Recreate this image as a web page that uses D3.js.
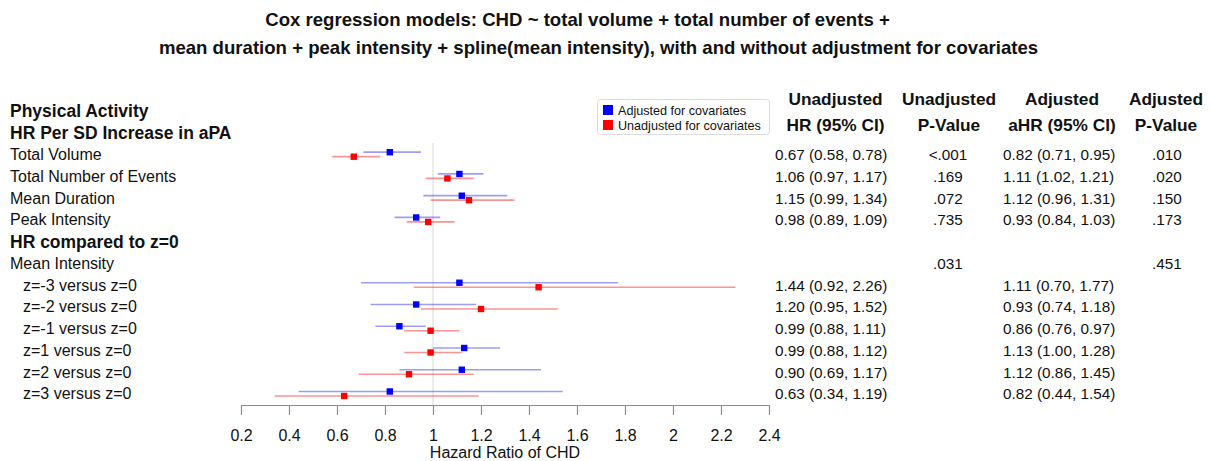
<!DOCTYPE html>
<html>
<head>
<meta charset="utf-8">
<script src="https://cdn.jsdelivr.net/npm/d3@7"></script>
<style>
  html, body { margin: 0; padding: 0; background: #fff; }
  svg { display: block; font-family: "Liberation Sans", Arial, Helvetica, sans-serif; }
</style>
</head>
<body>
<svg id="chart" width="1215" height="461"></svg>
<script>
// ---- data ----
const titleLines = [
  "Cox regression models: CHD ~ total volume + total number of events +",
  "mean duration + peak intensity + spline(mean intensity), with and without adjustment for covariates"
];
const rowLabels = [
  "Physical Activity", "HR Per SD Increase in aPA",
  "Total Volume", "Total Number of Events", "Mean Duration", "Peak Intensity",
  "HR compared to z=0", "Mean Intensity",
  "z=-3 versus z=0", "z=-2 versus z=0", "z=-1 versus z=0",
  "z=1 versus z=0", "z=2 versus z=0", "z=3 versus z=0"
];
const rowBold   = [1,1,0,0,0,0,1,0,0,0,0,0,0,0];
const rowIndent = [0,0,0,0,0,0,0,0,1,1,1,1,1,1];

// Unadjusted (red)
const unadjHR = [null,null,0.67,1.06,1.15,0.98,null,null,1.44,1.20,0.99,0.99,0.90,0.63];
const unadjLo = [null,null,0.58,0.97,0.99,0.89,null,null,0.92,0.95,0.88,0.88,0.69,0.34];
const unadjHi = [null,null,0.78,1.17,1.34,1.09,null,null,2.26,1.52,1.11,1.12,1.17,1.19];
const unadjP  = [null,null,"<.001",".169",".072",".735",null,".031",null,null,null,null,null,null];

// Adjusted (blue)
const adjHR = [null,null,0.82,1.11,1.12,0.93,null,null,1.11,0.93,0.86,1.13,1.12,0.82];
const adjLo = [null,null,0.71,1.02,0.96,0.84,null,null,0.70,0.74,0.76,1.00,0.86,0.44];
const adjHi = [null,null,0.95,1.21,1.31,1.03,null,null,1.77,1.18,0.97,1.28,1.45,1.54];
const adjP  = [null,null,".010",".020",".150",".173",null,".451",null,null,null,null,null,null];

const xTicks = [0.2,0.4,0.6,0.8,1.0,1.2,1.4,1.6,1.8,2.0,2.2,2.4];
const colHeaders = [["Unadjusted","HR (95% CI)"],["Unadjusted","P-Value"],["Adjusted","aHR (95% CI)"],["Adjusted","P-Value"]];
const legendItems = [["Adjusted for covariates","#0000ff"],["Unadjusted for covariates","#ff0000"]];
const xTitle = "Hazard Ratio of CHD";

// ---- layout ----
const svg = d3.select("#chart");
const x = d3.scaleLinear().domain([0.2, 2.4]).range([241, 769]);
const y = d3.scaleLinear().domain([0, rowLabels.length - 1]).range([111, 393.8]);
const axisY = 405;
const f2 = d3.format(".2f");

// title
svg.append("g").selectAll("text").data(titleLines).join("text")
  .attr("x", (d,i) => i === 0 ? 577.5 : 598.5)
  .attr("y", (d,i) => 26 + i*27.5)
  .attr("text-anchor", "middle")
  .attr("font-weight", "bold")
  .attr("font-size", 18.6)
  .attr("fill", "#111")
  .text(d => d);

// row labels
svg.append("g").selectAll("text").data(rowLabels).join("text")
  .attr("x", (d,i) => rowIndent[i] ? 23 : 10)
  .attr("y", (d,i) => y(i) + (rowBold[i] ? 6 : 5.6))
  .attr("font-size", (d,i) => rowBold[i] ? 17.5 : 16)
  .attr("font-weight", (d,i) => rowBold[i] ? "bold" : "normal")
  .attr("fill", "#111")
  .text(d => d);

// reference line at HR = 1
svg.append("line")
  .attr("x1", x(1)).attr("x2", x(1))
  .attr("y1", 143).attr("y2", axisY)
  .attr("stroke", "#d9d9d9").attr("stroke-width", 1);

// axis
const axis = d3.axisBottom(x).tickValues(xTicks).tickSize(10).tickSizeOuter(0)
  .tickFormat(d => String(+d.toFixed(1)));
const ag = svg.append("g").attr("transform", `translate(0,${axisY})`).call(axis);
ag.select(".domain").attr("stroke", "#8c8c8c").attr("stroke-width", 1.2);
ag.selectAll(".tick line").attr("stroke", "#8c8c8c").attr("stroke-width", 1.2);
ag.selectAll(".tick text").attr("font-size", 16).attr("fill", "#111")
  .attr("font-family", "'Liberation Sans', Arial, sans-serif").attr("dy", "1.45em");
svg.append("text").attr("x", 505).attr("y", 458).attr("text-anchor", "middle")
  .attr("font-size", 16).attr("fill", "#111").text(xTitle);

// series drawing
function drawSeries(hr, lo, hi, dy, lineColor, markColor) {
  const idx = d3.range(hr.length).filter(i => hr[i] != null);
  const g = svg.append("g");
  g.selectAll("line").data(idx).join("line")
    .attr("x1", i => x(lo[i])).attr("x2", i => x(hi[i]))
    .attr("y1", i => y(i) + dy).attr("y2", i => y(i) + dy)
    .attr("stroke", lineColor).attr("stroke-width", 1.7);
  g.selectAll("rect").data(idx).join("rect")
    .attr("x", i => x(hr[i]) - 3.2).attr("y", i => y(i) + dy - 3.2)
    .attr("width", 6.4).attr("height", 6.4)
    .attr("fill", markColor);
}
drawSeries(adjHR, adjLo, adjHi, -2.3, "rgba(60,60,240,0.5)", "#0000ff");
drawSeries(unadjHR, unadjLo, unadjHi, 2.2, "rgba(245,60,60,0.55)", "#ff0000");

// legend
const lg = svg.append("g");
lg.append("rect").attr("x", 597.5).attr("y", 99.5).attr("width", 172).attr("height", 35)
  .attr("rx", 3).attr("fill", "#fff").attr("stroke", "#dcdcdc");
legendItems.forEach(([label, color], k) => {
  lg.append("rect").attr("x", 603).attr("y", 105 + k*15).attr("width", 10).attr("height", 10).attr("fill", color);
  lg.append("text").attr("x", 618).attr("y", 114.5 + k*15).attr("font-size", 12.6).attr("fill", "#111").text(label);
});

// column headers
const colCenters = [835.5, 949, 1062, 1166];
colHeaders.forEach((lines, c) => {
  lines.forEach((t, l) => {
    svg.append("text").attr("x", colCenters[c]).attr("y", 105 + l*25.5)
      .attr("text-anchor", "middle").attr("font-weight", "bold").attr("font-size", 17.3)
      .attr("fill", "#111").text(t);
  });
});

// table columns
const numSize = 15.3;
const ciText = (hr, lo, hi) => d3.range(hr.length).map(i => hr[i] == null ? null : `${f2(hr[i])} (${f2(lo[i])}, ${f2(hi[i])})`);
const cols = [
  {vals: ciText(unadjHR, unadjLo, unadjHi), x: 775, anchor: "start"},
  {vals: unadjP, x: 948, anchor: "middle"},
  {vals: ciText(adjHR, adjLo, adjHi), x: 1003, anchor: "start"},
  {vals: adjP, x: 1167, anchor: "middle"}
];
cols.forEach(col => {
  const idx = d3.range(col.vals.length).filter(i => col.vals[i] != null);
  svg.append("g").selectAll("text").data(idx).join("text")
    .attr("x", col.x).attr("y", i => y(i) + 5.5)
    .attr("text-anchor", col.anchor).attr("font-size", numSize).attr("fill", "#111")
    .text(i => col.vals[i]);
});
</script>
</body>
</html>
